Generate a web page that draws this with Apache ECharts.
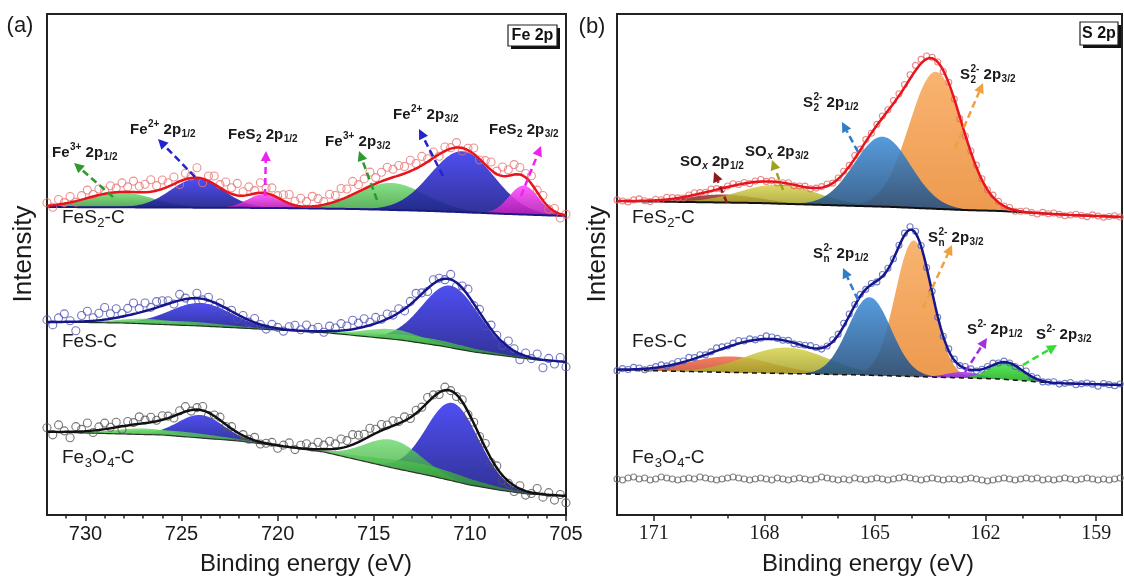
<!DOCTYPE html>
<html><head><meta charset="utf-8">
<script src="https://cdn.jsdelivr.net/npm/echarts@6/dist/echarts.min.js"></script>
<style>html,body{margin:0;padding:0;background:#fff}#c{width:1124px;height:579px}</style>
</head><body><div id="c"></div>
<script>
// ================= DATA =================
// axis ticks (binding energy, eV)
const feMajorTicks = [730, 725, 720, 715, 710, 705];
const sMajorTicks = [171, 168, 165, 162, 159];
const feRange = [705, 732];
const sRange = [158.3, 172];

// Shirley-type backgrounds [eV, intensity a.u.]
const feBaseFeS2 = [[732,308],[720,307],[716,306],[712,304],[708,301],[705,299]];
const feBaseFeS = [[732,193],[728,192],[724,189],[720,185],[717.3,182],[713.6,175],[711.5,169],[709.8,163],[706.5,155],[705,153]];
const feBaseFe3O4 = [[732,83],[726,80],[722,74],[720,69],[717.6,63],[714,47],[712,39],[710,30],[708.5,25],[707,21],[705,19]];
const sBaseFeS2 = [[172,314],[168.2,312],[166.35,310],[164.5,308],[162.6,305],[161.6,304],[159.7,300],[158.3,298]];
const sBaseFeS = [[172,145],[168.2,142],[165.4,140],[163.5,138],[161.6,136],[160.2,132],[158.3,130]];

// fitted components [centre eV, height a.u., FWHM eV]
const fePeaksFeS2 = [[728.2,15,4.0],[714.1,27,4.2],[724.2,29,3.2],[710.4,61,3.9],[720.7,14,2.0],[707.2,29,1.8]];
const feKindsFeS2 = ['green','green','blue','blue','magenta','magenta'];
const fePeaksFeS = [[724.0,23,3.8],[711.0,62,3.5],[726.8,5,3.5],[725.2,4,6.0],[714.0,10,3.5],[712.5,6,6.0]];
const feKindsFeS = ['blue','blue','green','green','green','green'];
const fePeaksFe3O4 = [[724.0,23,2.8],[710.9,78,3.2],[727.0,6,3.5],[725.5,5,6.0],[714.0,28,3.5],[712.5,10,6.0]];
const feKindsFe3O4 = ['blue','blue','green','green','green','green'];
const sPeaksFeS2 = [[169.1,8,2.25],[167.6,19,2.45],[163.35,137,1.7],[164.8,70,1.8]];
const sKindsFeS2 = ['darkred','olive','orange','sblue'];
const sPeaksFeS = [[168.9,16,2.65],[167.4,26,2.65],[163.95,136,1.18],[165.15,78,1.37],[162.6,6,1.05],[161.45,17,1.05]];
const sKindsFeS = ['red','olive','orange','sblue','purple','sgreen'];

// measured points: deviation from the fit (a.u.), Fe 2p every 0.3 eV from 732, S 2p every 0.15 eV from 172
const feResFeS2 = [3,-2,5,1,6,-1,4,8,2,6,3, 7,4,9,5,11,6,8,12,5,9, 4,7,-3,6,2,10,-4,5,8,3, 9,6,12,4,8,3,10,5,7,2, 6,9,4,8,5,10,7,3,9,6, 11,8,13,7,10,14,6,9,12,8, 10,7,11,5,9,3,6,-2,4,1, 5,-3,2,6,-1,4,8,3,9,6, 10,7,4,8,2,5,-2,3,-4,1];
const feResFeS = [2,-3,4,8,1,-9,6,10,3,7,12, 5,9,3,7,11,4,8,2,6,5, 3,-2,6,1,-4,5,-1,3,-5,2, -3,1,-4,2,-2,4,0,-3,3,1, -2,3,5,1,6,2,4,-1,5,3, 7,4,9,5,8,3,6,2,5,1, 4,-2,3,6,1,-3,4,2,-1,5, -4,2,6,-2,3,-5,4,1,-3,6, 2,-6,3,-1,5,-8,2,-3,4,-5];
const feResFe3O4 = [4,-3,7,1,-6,5,2,8,-2,3,6, 1,5,-3,4,2,7,3,5,1,4, 2,-2,3,5,-1,2,4,-3,1,3, -2,2,-4,1,-1,3,-2,0,2,-3, 1,4,-2,3,5,2,7,4,8,5, 9,6,10,7,5,8,4,6,3,5, 2,4,-1,3,1,5,2,-2,3,0, -2,2,-3,1,-1,4,-4,2,-5,-2, -6,3,-4,-1,5,-3,2,-5,1,-7];
const sResFeS2 = [1,0,-1,1,2,0,-1,1,0,2,1, 0,-1,1,2,1,0,2,1,-1,1, 2,0,1,-1,1,2,0,1,-1,0, 1,-1,0,1,-1,0,1,2,0,1, 2,1,3,1,2,0,1,2,1,3, 2,3,4,5,4,3,1,0,-1,1, 0,-2,-1,1,2,1,0,2,1,0, 1,-1,0,1,0,-1,1,0,1,0, -1,0,1,0,-1,1,0,-1,0,1,0];
const sResFeS = [-1,1,0,2,1,-1,0,1,2,0,1, 2,1,3,1,2,0,1,3,2,1, 2,3,1,2,0,1,3,2,1,0, 1,-1,0,1,2,1,-1,0,2,1, 3,2,1,2,0,1,-1,2,1,0, 1,2,3,2,1,0,1,-1,0,2, 1,0,2,1,-1,0,1,2,0,1, 0,-1,1,2,0,1,-1,0,1,-1, 0,1,-1,0,1,0,-2,1,0,-1,1];
const sDataFe3O4 = [36,35,37,38,36,37,35,36,38,37,36, 35,36,37,36,38,37,36,35,36,37, 38,37,36,35,36,37,36,35,37,36, 35,36,37,36,35,36,38,37,36,35, 36,35,37,36,35,36,37,36,35,36, 37,38,37,36,35,36,37,36,35,36, 36,35,36,37,36,35,34,35,36,37, 36,35,36,37,36,37,35,36,35,36, 37,36,35,36,37,36,35,36,35,36,37];

// ================= HELPERS =================
const SANS = '"Liberation Sans", Arial, Helvetica, sans-serif';
const SERIF = '"Liberation Serif", "Times New Roman", serif';
const feScatterX = Array.from({length: feResFeS2.length}, (_, i) => +(732 - 0.3 * i).toFixed(2));
const sScatterX = Array.from({length: sResFeS2.length}, (_, i) => +(172 - 0.15 * i).toFixed(2));
const feCurveX = Array.from({length: 541}, (_, i) => +(732 - 0.05 * i).toFixed(2));
const sCurveX = Array.from({length: 686}, (_, i) => +(172 - 0.02 * i).toFixed(2));

function gauss(x, p) { const s = p[2] / 2.3548; return p[1] * Math.exp(-((x - p[0]) ** 2) / (2 * s * s)); }
function baseAt(b, x) {
  for (let i = 0; i < b.length - 1; i++) {
    const [x0, y0] = b[i], [x1, y1] = b[i + 1];
    if (x <= x0 && x >= x1) return y0 + (y1 - y0) * (x0 - x) / (x0 - x1);
  }
  return x > b[0][0] ? b[0][1] : b[b.length - 1][1];
}
function fitAt(b, peaks, x) { let v = baseAt(b, x); for (const p of peaks) v += gauss(x, p); return v; }

const FILL = {
  green: ['#66d866', '#259125', 0.78], blue: ['#3b3bf2', '#1a1a88', 0.9], magenta: ['#ff4cff', '#b21cb2', 0.9],
  sblue: ['#3f8ed8', '#214c7c', 0.88], orange: ['#f8b068', '#ec9445', 0.95], olive: ['#d8d24c', '#9b9b22', 0.85],
  darkred: ['#a03030', '#6a1616', 0.85], red: ['#ee6a46', '#c8402a', 0.85], purple: ['#ad46f0', '#7a1cc2', 0.9],
  sgreen: ['#46ea46', '#22aa22', 0.9]
};
function grad(k) {
  const f = FILL[k];
  return new echarts.graphic.LinearGradient(0, 0, 0, 1, [{offset: 0, color: f[0]}, {offset: 1, color: f[1]}]);
}

const series = [];
function addSpectrum(gi, xs, base, peaks, kinds, lineColor, baseStyle, sx, res, dotColor, dotSize, lw) {
  peaks.forEach((p, i) => {
    const pts = xs.filter(x => gauss(x, p) > 0.05);
    series.push({type: 'custom', xAxisIndex: gi * 2, yAxisIndex: gi, silent: true, z: 2, clip: true,
      data: [[p[0], baseAt(base, p[0]) + p[1]]],
      renderItem: (params, api) => {
        const top = pts.map(x => api.coord([x, baseAt(base, x) + gauss(x, p)]));
        const bot = pts.slice().reverse().map(x => api.coord([x, baseAt(base, x)]));
        return {type: 'polygon', shape: {points: top.concat(bot)},
          style: {fill: grad(kinds[i]), opacity: FILL[kinds[i]][2]}};
      }});
  });
  series.push({type: 'line', xAxisIndex: gi * 2, yAxisIndex: gi, silent: true, showSymbol: false, symbol: 'none',
    lineStyle: baseStyle, z: 3, data: xs.map(x => [x, baseAt(base, x)])});
  series.push({type: 'scatter', xAxisIndex: gi * 2, yAxisIndex: gi, silent: true, symbol: 'circle', symbolSize: dotSize,
    itemStyle: {color: 'rgba(255,255,255,0)', borderColor: dotColor, borderWidth: 1.1}, z: 4,
    data: sx.map((x, i) => [x, fitAt(base, peaks, x) + res[i]])});
  series.push({type: 'line', xAxisIndex: gi * 2, yAxisIndex: gi, silent: true, showSymbol: false, symbol: 'none',
    lineStyle: {color: lineColor, width: lw}, z: 5, data: xs.map(x => [x, fitAt(base, peaks, x)])});
}

addSpectrum(0, feCurveX, feBaseFeS2, fePeaksFeS2, feKindsFeS2, '#e8141c', {color: '#1a1a80', width: 2}, feScatterX, feResFeS2, '#e87474', 8, 2.5);
addSpectrum(0, feCurveX, feBaseFeS, fePeaksFeS, feKindsFeS, '#15158c', {color: '#1e3a1e', width: 1.2}, feScatterX, feResFeS, '#5252b4', 8, 2.5);
addSpectrum(0, feCurveX, feBaseFe3O4, fePeaksFe3O4, feKindsFe3O4, '#111111', {color: '#333', width: 1.2}, feScatterX, feResFe3O4, '#555555', 8, 2.5);
addSpectrum(1, sCurveX, sBaseFeS2, sPeaksFeS2, sKindsFeS2, '#e8141c', {color: '#111', width: 2}, sScatterX, sResFeS2, '#e46a6a', 6, 2.5);
addSpectrum(1, sCurveX, sBaseFeS, sPeaksFeS, sKindsFeS, '#15158c', {color: '#111', width: 1.5, type: [5, 4]}, sScatterX, sResFeS, '#5060b8', 6, 2.5);
series.push({type: 'scatter', xAxisIndex: 2, yAxisIndex: 1, silent: true, symbol: 'circle', symbolSize: 6,
  itemStyle: {color: 'rgba(255,255,255,0)', borderColor: '#666', borderWidth: 1.1}, z: 4,
  data: sScatterX.map((x, i) => [x, sDataFe3O4[i]])});

// ---- annotations ----
const mctx = document.createElement('canvas').getContext('2d');
function measure(t, size, weight, style) { mctx.font = `${style} ${weight} ${size}px ${SANS}`; return mctx.measureText(t).width; }
function richText(x, y, parts, size, weight, color) {
  const small = Math.round(size * 0.66);
  const out = []; let cx = x;
  const mk = (t, px, py, sz, it) => ({type: 'text', x: px, y: py, z: 100, silent: true,
    style: {text: t, fontSize: sz, fontWeight: weight, fontStyle: it ? 'italic' : 'normal', fontFamily: SANS, fill: color, verticalAlign: 'middle', align: 'left'}});
  for (const p of parts) {
    const k = p[0];
    if (k === 'n') { out.push(mk(p[1], cx, y, size)); cx += measure(p[1], size, weight, 'normal'); }
    else if (k === 'sup') { out.push(mk(p[1], cx + 0.5, y - size * 0.36, small)); cx += measure(p[1], small, weight, 'normal') + 0.5; }
    else if (k === 'sub' || k === 'subi') { const it = k === 'subi'; out.push(mk(p[1], cx + 0.5, y + size * 0.3, small, it)); cx += measure(p[1], small, weight, it ? 'italic' : 'normal') + 0.5; }
    else if (k === 'stack') {
      out.push(mk(p[1], cx + 0.5, y - size * 0.36, small)); out.push(mk(p[2], cx + 0.5, y + size * 0.32, small));
      cx += Math.max(measure(p[1], small, weight, 'normal'), measure(p[2], small, weight, 'normal')) + 0.5;
    }
  }
  return out;
}
function arrow(x1, y1, x2, y2, color) {
  const dx = x2 - x1, dy = y2 - y1, L = Math.hypot(dx, dy), ux = dx / L, uy = dy / L;
  const hl = 10, hw = 5;
  const bx = x2 - ux * hl, by = y2 - uy * hl;
  return [
    {type: 'line', z: 100, silent: true, shape: {x1, y1, x2: bx, y2: by}, style: {stroke: color, lineWidth: 2.5, lineDash: [7, 4]}},
    {type: 'polygon', z: 100, silent: true, shape: {points: [[x2, y2], [bx - uy * hw, by + ux * hw], [bx + uy * hw, by - ux * hw]]}, style: {fill: color}}
  ];
}
const fe = (s) => [['n', 'Fe'], ['sup', s[0]], ['n', ' 2p'], ['sub', s[1]]];
const peakLabels = [
  [52, 153, fe(['3+', '1/2'])], [130, 130, fe(['2+', '1/2'])], [228, 135, [['n', 'FeS'], ['sub', '2'], ['n', ' 2p'], ['sub', '1/2']]],
  [325, 142, fe(['3+', '3/2'])], [393, 115, fe(['2+', '3/2'])], [489, 130, [['n', 'FeS'], ['sub', '2'], ['n', ' 2p'], ['sub', '3/2']]],
  [680, 162, [['n', 'SO'], ['subi', 'x'], ['n', ' 2p'], ['sub', '1/2']]], [745, 152, [['n', 'SO'], ['subi', 'x'], ['n', ' 2p'], ['sub', '3/2']]],
  [803, 103, [['n', 'S'], ['stack', '2-', '2'], ['n', ' 2p'], ['sub', '1/2']]], [960, 75, [['n', 'S'], ['stack', '2-', '2'], ['n', ' 2p'], ['sub', '3/2']]],
  [813, 254, [['n', 'S'], ['stack', '2-', 'n'], ['n', ' 2p'], ['sub', '1/2']]], [928, 238, [['n', 'S'], ['stack', '2-', 'n'], ['n', ' 2p'], ['sub', '3/2']]],
  [967, 330, [['n', 'S'], ['sup', '2-'], ['n', ' 2p'], ['sub', '1/2']]], [1036, 335, [['n', 'S'], ['sup', '2-'], ['n', ' 2p'], ['sub', '3/2']]]
];
const arrows = [
  [113, 197, 74, 163, '#2e9a2e'], [195, 177, 158, 139, '#2323d0'], [265, 196, 266, 151, '#ee22ee'],
  [377, 200, 359, 151, '#2e9a2e'], [443, 176, 419, 129, '#2323d0'], [521, 196, 541, 146, '#ee22ee'],
  [727, 203, 714, 172, '#8b1a1a'], [783, 190, 772, 160, '#a0a020'], [858, 152, 842, 122, '#2f7dc8'],
  [955, 148, 983, 83, '#f0a040'], [858, 300, 843, 268, '#2f7dc8'], [923, 308, 952, 245, '#f0a040'],
  [965, 372, 987, 338, '#a030e0'], [1023, 365, 1057, 345, '#33dd33']
];
const sampleLabels = [
  [62, 218, [['n', 'FeS'], ['sub', '2'], ['n', '-C']]], [62, 342, [['n', 'FeS-C']]], [62, 458, [['n', 'Fe'], ['sub', '3'], ['n', 'O'], ['sub', '4'], ['n', '-C']]],
  [632, 218, [['n', 'FeS'], ['sub', '2'], ['n', '-C']]], [632, 342, [['n', 'FeS-C']]], [632, 458, [['n', 'Fe'], ['sub', '3'], ['n', 'O'], ['sub', '4'], ['n', '-C']]]
];

const graphics = [];
peakLabels.forEach(l => graphics.push(...richText(l[0], l[1], l[2], 15, 'bold', '#1a1a1a')));
arrows.forEach(a => graphics.push(...arrow(...a)));
sampleLabels.forEach(l => graphics.push(...richText(l[0], l[1], l[2], 19, 'normal', '#1a1a1a')));
const txt = (t, x, y, size, extra) => Object.assign({type: 'text', x, y, z: 100, silent: true,
  style: {text: t, fontSize: size, fontFamily: SANS, fill: '#1a1a1a', align: 'center', verticalAlign: 'middle'}}, extra || {});
graphics.push(txt('(a)', 20, 26, 22), txt('(b)', 592, 27, 22));
graphics.push(txt('Intensity', 24, 254, 26, {rotation: Math.PI / 2}), txt('Intensity', 598, 254, 26, {rotation: Math.PI / 2}));
graphics.push(txt('Binding energy (eV)', 306, 564, 24), txt('Binding energy (eV)', 868, 564, 24));
function boxLabel(x, y, w, h, t) {
  return [
    {type: 'rect', z: 99, silent: true, shape: {x: x + 3, y: y + 3, width: w, height: h}, style: {fill: '#111'}},
    {type: 'rect', z: 100, silent: true, shape: {x, y, width: w, height: h}, style: {fill: '#fff', stroke: '#222', lineWidth: 1.2}},
    {type: 'text', z: 101, silent: true, x: x + w / 2, y: y + h / 2 + 0.5, style: {text: t, fontSize: 16, fontWeight: 'bold', fontFamily: SANS, fill: '#111', align: 'center', verticalAlign: 'middle'}}
  ];
}
graphics.push(...boxLabel(508, 25, 49, 21, 'Fe 2p'), ...boxLabel(1080, 22, 38, 23, 'S 2p'));

// ---- axes ----
const intsBetween = (a, b, skip) => { const r = []; for (let v = Math.ceil(a); v <= Math.floor(b); v++) if (!skip.includes(v)) r.push(v); return r; };
function xAxes(gi, range, majors, fam) {
  const minors = intsBetween(range[0], range[1], majors).filter(v => v > range[0] && v < range[1]);
  return [
    {gridIndex: gi, type: 'value', position: 'bottom', inverse: true, min: range[0], max: range[1],
      axisLine: {show: true, onZero: false, lineStyle: {color: '#222', width: 2}},
      axisTick: {show: true, inside: false, length: 6, customValues: majors, lineStyle: {color: '#222', width: 1.5}},
      axisLabel: {show: true, customValues: majors, margin: 9, fontSize: 20, fontFamily: fam, color: '#1a1a1a'},
      splitLine: {show: false}},
    {gridIndex: gi, type: 'value', position: 'bottom', offset: 0, inverse: true, min: range[0], max: range[1],
      axisLine: {show: false}, axisLabel: {show: false}, splitLine: {show: false},
      axisTick: {show: true, inside: false, length: 3.5, customValues: minors, lineStyle: {color: '#222', width: 1.5}}}
  ];
}

const chart = echarts.init(document.getElementById('c'), null, {renderer: 'canvas'});
chart.setOption({
  animation: false,
  backgroundColor: '#fff',
  grid: [
    {left: 47, top: 14, width: 519, height: 501, show: true, borderColor: '#222', borderWidth: 2, backgroundColor: 'transparent'},
    {left: 617, top: 14, width: 505, height: 501, show: true, borderColor: '#222', borderWidth: 2, backgroundColor: 'transparent'}
  ],
  xAxis: [...xAxes(0, feRange, feMajorTicks, SANS), ...xAxes(1, sRange, sMajorTicks, SERIF)],
  yAxis: [
    {gridIndex: 0, type: 'value', min: 0, max: 501, show: false},
    {gridIndex: 1, type: 'value', min: 0, max: 501, show: false}
  ],
  series,
  graphic: {elements: graphics}
});
</script></body></html>
